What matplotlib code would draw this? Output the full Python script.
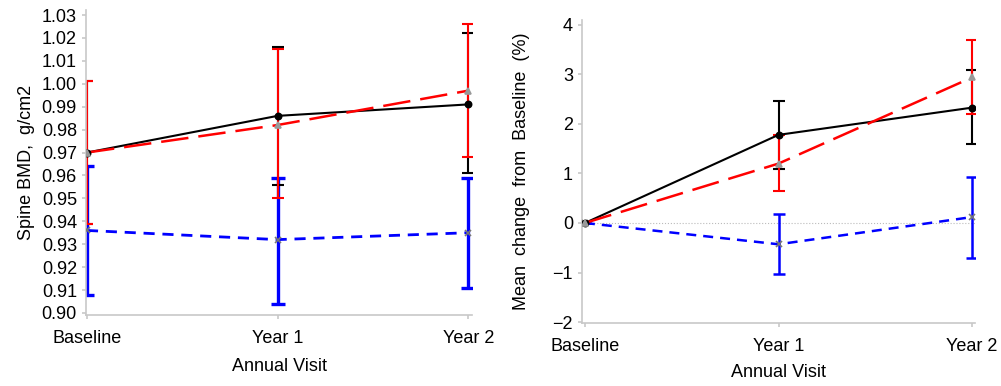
import numpy as np
import matplotlib
matplotlib.use("Agg")
import matplotlib.pyplot as plt

plt.rcParams['font.family'] = ['Liberation Sans', 'DejaVu Sans']

visits = ["Baseline", "Year 1", "Year 2"]

# left panel: spine BMD, g/cm2
bmd_black = [0.970, 0.986, 0.991]
bmd_black_lo = [0.939, 0.956, 0.961]
bmd_black_hi = [1.001, 1.016, 1.022]
bmd_red = [0.970, 0.982, 0.997]
bmd_red_lo = [0.939, 0.950, 0.968]
bmd_red_hi = [1.001, 1.015, 1.026]
bmd_blue = [0.936, 0.932, 0.935]
bmd_blue_lo = [0.908, 0.904, 0.911]
bmd_blue_hi = [0.964, 0.959, 0.959]

# right panel: mean change from baseline (%)
chg_black = [0.0, 1.78, 2.33]
chg_black_lo = [0.0, 1.09, 1.59]
chg_black_hi = [0.0, 2.47, 3.08]
chg_red = [0.0, 1.20, 2.94]
chg_red_lo = [0.0, 0.64, 2.20]
chg_red_hi = [0.0, 1.78, 3.70]
chg_blue = [0.0, -0.43, 0.12]
chg_blue_lo = [0.0, -1.03, -0.70]
chg_blue_hi = [0.0, 0.18, 0.93]

W, H = 1001, 386
fig = plt.figure(figsize=(W / 100, H / 100), dpi=100)
ax1 = fig.add_axes([86 / W, 1 - 315 / H, (472 - 86) / W, (315 - 10) / H])
ax2 = fig.add_axes([582 / W, 1 - 323 / H, (975 - 582) / W, (323 - 20) / H])

x = np.arange(len(visits))
FS = 13


def draw(ax, mid, lo, hi, color, ls, marker, lw, elw, mcol, ms, capw, z):
    mid = np.array(mid)
    err = [mid - np.array(lo), np.array(hi) - mid]
    ax.errorbar(x, mid, yerr=err, fmt="none", ecolor=color, elinewidth=elw,
                capsize=capw, capthick=elw, zorder=z)
    ax.plot(x, mid, color=color, ls=ls, lw=lw, zorder=z + 3)
    ax.plot(x, mid, ls="none", marker=marker, color=mcol, ms=ms, mew=1.2, zorder=z + 4)


def style(ax, xpad):
    for s in ["top", "right"]:
        ax.spines[s].set_visible(False)
    for s in ["left", "bottom"]:
        ax.spines[s].set_color("#c8c8c8")
        ax.spines[s].set_linewidth(1.2)
    ax.tick_params(colors="#c8c8c8", labelcolor="black", labelsize=FS,
                   length=3, width=1.2)
    ax.tick_params(axis="x", pad=8)
    ax.set_xticks(x)
    ax.set_xticklabels(visits)
    ax.set_xlabel("Annual Visit", fontsize=FS, labelpad=xpad)


# left
draw(ax1, bmd_blue, bmd_blue_lo, bmd_blue_hi, "blue", (0, (4, 2.8)), "x", 2, 2.4, "#777777", 5, 5, 1.0)
draw(ax1, bmd_black, bmd_black_lo, bmd_black_hi, "black", "-", "o", 1.5, 1.5, "black", 4.5, 4, 1.1)
draw(ax1, bmd_red, bmd_red_lo, bmd_red_hi, "red", (0, (11, 4)), "^", 1.8, 1.5, "#999999", 4, 4, 1.2)
style(ax1, 8)
ax1.set_xlim(-0.005, 2.02)
ax1.set_ylim(0.8991, 1.0322)
ticks1 = np.arange(0.90, 1.031, 0.01)
ax1.set_yticks(ticks1)
ax1.set_yticklabels([f"{v:.2f}" for v in ticks1])
ax1.set_ylabel("Spine BMD,  g/cm2", fontsize=FS, labelpad=5)

# right
ax2.axhline(0, color="#bbbbbb", lw=0.8, ls=":", zorder=0.5)
draw(ax2, chg_blue, chg_blue_lo, chg_blue_hi, "blue", (0, (4, 2.8)), "x", 1.8, 1.8, "#777777", 5, 4, 1.0)
draw(ax2, chg_black, chg_black_lo, chg_black_hi, "black", "-", "o", 1.5, 1.5, "black", 4.5, 4, 1.1)
draw(ax2, chg_red, chg_red_lo, chg_red_hi, "red", (0, (11, 4)), "^", 1.8, 1.5, "#999999", 4, 4, 1.2)
style(ax2, 6)
ax2.set_xlim(-0.015, 2.015)
ax2.set_ylim(-2.02, 4.1)
ax2.set_yticks(range(-2, 5))
ax2.set_ylabel("Mean  change  from  Baseline  (%)", fontsize=FS, labelpad=16)

fig.savefig("out.png", dpi=100)
